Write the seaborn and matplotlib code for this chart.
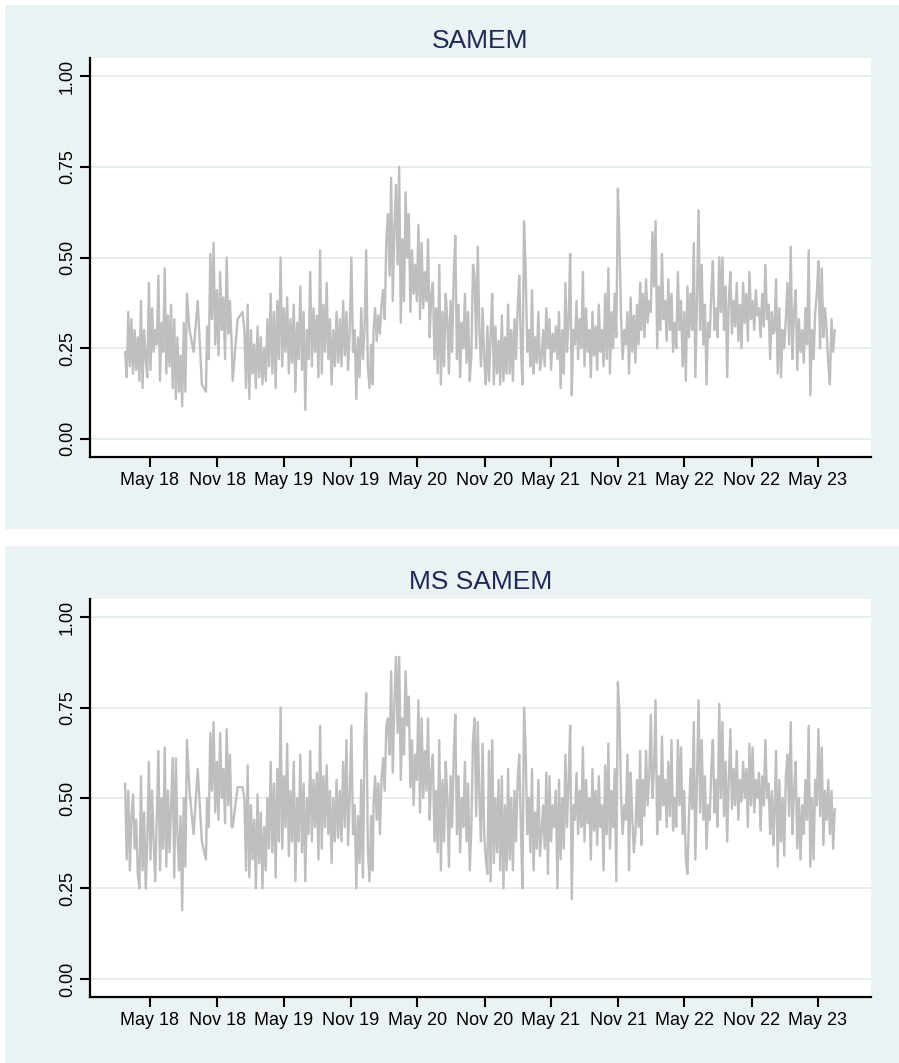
import pandas as pd
import matplotlib
matplotlib.use("Agg")
import matplotlib.pyplot as plt
import matplotlib.dates as mdates
from matplotlib.patches import Rectangle
import seaborn as sns

# Observation periods: dense trading stretches and two thin spells in late 2018
SEGMENTS = [
    ("2018-02-22", "2018-08-10"),
    ("2018-08-17", "2018-10-01"),
    ("2018-10-04", "2018-12-10"),
    ("2018-12-13", "2019-01-09"),
    ("2019-01-14", "2019-12-31"),
    ("2020-01-02", "2020-12-31"),
    ("2021-01-04", "2021-12-31"),
    ("2022-01-03", "2022-12-30"),
    ("2023-01-02", "2023-06-16"),
]

# SAMEM
samem_2018a = [0.24, 0.17, 0.35, 0.20, 0.33, 0.18, 0.30, 0.19, 0.28, 0.16, 0.38, 0.14, 0.30, 0.22,
               0.17, 0.43, 0.19, 0.36, 0.24, 0.30, 0.26, 0.45, 0.16, 0.32, 0.24, 0.47, 0.18, 0.34,
               0.20, 0.37, 0.14, 0.33, 0.11, 0.28, 0.13, 0.23, 0.09, 0.32, 0.13, 0.40]
samem_2018_gap1 = [0.30, 0.24, 0.38, 0.15, 0.13]
samem_2018b = [0.31, 0.22, 0.51, 0.33, 0.54, 0.26, 0.41, 0.23, 0.46, 0.30, 0.39, 0.22, 0.50, 0.29,
               0.38, 0.27]
samem_2018_gap2 = [0.16, 0.33, 0.35]
samem_2019 = [0.30, 0.14, 0.37, 0.11, 0.30, 0.18, 0.26, 0.14, 0.31, 0.17, 0.28, 0.15, 0.25, 0.16, 0.33, 0.20,
              0.40, 0.18, 0.35, 0.14, 0.38, 0.22, 0.50, 0.20, 0.36, 0.24, 0.39, 0.18, 0.33, 0.21, 0.37, 0.13, 0.32, 0.22, 0.42, 0.19, 0.35,
              0.08, 0.30, 0.22, 0.46, 0.20, 0.36, 0.24, 0.34, 0.17, 0.52, 0.18, 0.37, 0.24, 0.43, 0.22, 0.33, 0.15, 0.30, 0.20, 0.35, 0.21,
              0.33, 0.20, 0.38, 0.23, 0.35, 0.19, 0.30, 0.50, 0.24, 0.30, 0.11, 0.28, 0.17, 0.36, 0.22, 0.30, 0.52, 0.20, 0.14, 0.26, 0.15]
samem_2020 = [0.30, 0.36, 0.27, 0.34, 0.29, 0.37, 0.41, 0.33, 0.55, 0.62, 0.45, 0.72, 0.38, 0.58, 0.70, 0.48, 0.75, 0.32, 0.55, 0.38, 0.68,
              0.50, 0.62, 0.35, 0.52, 0.40, 0.48, 0.38, 0.59, 0.33, 0.54, 0.36, 0.46, 0.38, 0.55, 0.28, 0.40, 0.43, 0.22, 0.36, 0.18, 0.48,
              0.15, 0.35, 0.20, 0.40, 0.33, 0.18, 0.38, 0.24, 0.45, 0.56, 0.22, 0.37, 0.17, 0.32, 0.25, 0.40, 0.21, 0.35, 0.16, 0.23, 0.48,
              0.45, 0.25, 0.53, 0.30, 0.20, 0.36, 0.22, 0.15, 0.31, 0.16, 0.29, 0.40, 0.15, 0.31, 0.18, 0.27, 0.15, 0.34, 0.16, 0.28, 0.18]
samem_2021 = [0.37, 0.18, 0.30, 0.16, 0.33, 0.22, 0.36, 0.45, 0.26, 0.15, 0.60, 0.47, 0.24, 0.30, 0.20, 0.41, 0.18, 0.28, 0.21, 0.35, 0.19,
              0.22, 0.30, 0.20, 0.36, 0.25, 0.33, 0.19, 0.29, 0.24, 0.31, 0.22, 0.35, 0.14, 0.30, 0.18, 0.43, 0.24, 0.33, 0.51, 0.12, 0.30,
              0.26, 0.38, 0.22, 0.33, 0.25, 0.46, 0.20, 0.36, 0.24, 0.30, 0.17, 0.35, 0.23, 0.31, 0.19, 0.37, 0.24, 0.30, 0.20, 0.40, 0.22,
              0.47, 0.18, 0.35, 0.25, 0.40, 0.28, 0.69, 0.54, 0.33, 0.22, 0.30, 0.26, 0.35, 0.18, 0.39, 0.24, 0.34, 0.21, 0.37, 0.26, 0.43]
samem_2022 = [0.30, 0.40, 0.28, 0.44, 0.32, 0.38, 0.35, 0.57, 0.42, 0.60, 0.25, 0.42, 0.30, 0.51, 0.33, 0.38, 0.27, 0.44, 0.30, 0.40, 0.24,
              0.32, 0.25, 0.46, 0.30, 0.38, 0.20, 0.35, 0.16, 0.42, 0.28, 0.40, 0.30, 0.54, 0.17, 0.38, 0.63, 0.30, 0.48, 0.26, 0.37, 0.15,
              0.32, 0.28, 0.40, 0.49, 0.30, 0.36, 0.28, 0.50, 0.35, 0.50, 0.30, 0.42, 0.17, 0.38, 0.46, 0.29, 0.38, 0.31, 0.43, 0.27, 0.37,
              0.25, 0.43, 0.32, 0.40, 0.27, 0.46, 0.33, 0.38, 0.30, 0.41, 0.34, 0.36, 0.28, 0.40, 0.31, 0.48, 0.33, 0.37, 0.22, 0.35, 0.29]
samem_2023 = [0.30, 0.44, 0.18, 0.36, 0.17, 0.30, 0.25, 0.33, 0.43, 0.26, 0.53, 0.22, 0.35, 0.41, 0.19, 0.33, 0.24, 0.30, 0.21, 0.36, 0.26,
              0.52, 0.12, 0.30, 0.22, 0.35, 0.40, 0.49, 0.25, 0.47, 0.28, 0.36, 0.30, 0.21, 0.15, 0.33, 0.24, 0.30]

# MS SAMEM
ms_2018a = [0.54, 0.33, 0.52, 0.30, 0.45, 0.51, 0.36, 0.44, 0.29, 0.25, 0.56, 0.30, 0.46, 0.25,
            0.38, 0.60, 0.33, 0.52, 0.38, 0.27, 0.45, 0.63, 0.30, 0.50, 0.36, 0.64, 0.31, 0.52,
            0.35, 0.48, 0.61, 0.28, 0.61, 0.40, 0.30, 0.45, 0.19, 0.50, 0.31, 0.66]
ms_2018_gap1 = [0.52, 0.40, 0.58, 0.38, 0.33]
ms_2018b = [0.50, 0.42, 0.68, 0.52, 0.71, 0.46, 0.60, 0.44, 0.68, 0.50, 0.58, 0.43, 0.69, 0.48,
            0.62, 0.42]
ms_2018_gap2 = [0.42, 0.53, 0.53]
ms_2019 = [0.50, 0.30, 0.59, 0.28, 0.48, 0.33, 0.44, 0.25, 0.51, 0.32, 0.46, 0.25, 0.42, 0.30, 0.50, 0.36,
           0.60, 0.35, 0.54, 0.28, 0.58, 0.38, 0.75, 0.36, 0.56, 0.42, 0.65, 0.34, 0.52, 0.38, 0.60, 0.27, 0.50, 0.38, 0.62, 0.35, 0.54,
           0.27, 0.50, 0.40, 0.63, 0.38, 0.55, 0.42, 0.57, 0.33, 0.70, 0.36, 0.56, 0.42, 0.59, 0.40, 0.52, 0.32, 0.50, 0.38, 0.55, 0.39,
           0.52, 0.38, 0.60, 0.42, 0.66, 0.37, 0.50, 0.70, 0.40, 0.48, 0.25, 0.45, 0.32, 0.55, 0.28, 0.66, 0.79, 0.36, 0.27, 0.45, 0.30]
ms_2020 = [0.48, 0.56, 0.44, 0.54, 0.40, 0.55, 0.61, 0.52, 0.70, 0.72, 0.62, 0.85, 0.57, 0.76, 0.89, 0.68, 0.89, 0.55, 0.72, 0.62, 0.85,
           0.70, 0.78, 0.53, 0.66, 0.48, 0.62, 0.55, 0.77, 0.46, 0.72, 0.50, 0.63, 0.52, 0.72, 0.44, 0.57, 0.62, 0.38, 0.52, 0.35, 0.66,
           0.30, 0.55, 0.38, 0.60, 0.50, 0.31, 0.56, 0.42, 0.62, 0.73, 0.40, 0.56, 0.35, 0.50, 0.42, 0.60, 0.38, 0.54, 0.30, 0.42, 0.66,
           0.72, 0.45, 0.71, 0.50, 0.38, 0.65, 0.40, 0.33, 0.29, 0.63, 0.27, 0.66, 0.32, 0.50, 0.35, 0.55, 0.30, 0.56, 0.25, 0.48, 0.30]
ms_2021 = [0.58, 0.33, 0.50, 0.30, 0.52, 0.38, 0.55, 0.62, 0.42, 0.25, 0.75, 0.64, 0.40, 0.50, 0.35, 0.58, 0.30, 0.46, 0.36, 0.55, 0.34,
           0.40, 0.48, 0.36, 0.57, 0.29, 0.56, 0.38, 0.48, 0.42, 0.52, 0.25, 0.55, 0.33, 0.50, 0.36, 0.62, 0.42, 0.55, 0.70, 0.22, 0.48,
           0.44, 0.57, 0.40, 0.52, 0.42, 0.64, 0.38, 0.55, 0.43, 0.50, 0.33, 0.58, 0.41, 0.52, 0.37, 0.56, 0.42, 0.48, 0.30, 0.59, 0.40,
           0.65, 0.36, 0.52, 0.42, 0.58, 0.27, 0.82, 0.73, 0.50, 0.40, 0.48, 0.44, 0.62, 0.30, 0.57, 0.45, 0.35, 0.40, 0.55, 0.42, 0.63]
ms_2022 = [0.37, 0.55, 0.45, 0.63, 0.48, 0.56, 0.73, 0.50, 0.58, 0.77, 0.40, 0.56, 0.44, 0.67, 0.48, 0.55, 0.42, 0.60, 0.45, 0.66, 0.41,
           0.50, 0.42, 0.66, 0.48, 0.64, 0.40, 0.52, 0.33, 0.29, 0.45, 0.58, 0.47, 0.71, 0.33, 0.55, 0.77, 0.46, 0.66, 0.44, 0.56, 0.36,
           0.48, 0.44, 0.58, 0.66, 0.46, 0.55, 0.42, 0.76, 0.50, 0.71, 0.45, 0.60, 0.38, 0.55, 0.69, 0.47, 0.58, 0.48, 0.63, 0.44, 0.55,
           0.49, 0.60, 0.50, 0.58, 0.42, 0.65, 0.48, 0.64, 0.46, 0.55, 0.50, 0.57, 0.41, 0.56, 0.48, 0.66, 0.50, 0.54, 0.40, 0.52, 0.37]
ms_2023 = [0.45, 0.63, 0.31, 0.55, 0.38, 0.50, 0.34, 0.56, 0.62, 0.45, 0.71, 0.40, 0.52, 0.60, 0.36, 0.50, 0.33, 0.48, 0.40, 0.55, 0.44,
           0.70, 0.31, 0.50, 0.33, 0.55, 0.48, 0.69, 0.45, 0.64, 0.37, 0.52, 0.44, 0.55, 0.40, 0.52, 0.36, 0.47]

SAMEM_PARTS = [samem_2018a, samem_2018_gap1, samem_2018b, samem_2018_gap2,
               samem_2019, samem_2020, samem_2021, samem_2022, samem_2023]
MS_PARTS = [ms_2018a, ms_2018_gap1, ms_2018b, ms_2018_gap2,
            ms_2019, ms_2020, ms_2021, ms_2022, ms_2023]

TITLES = ["SAMEM", "MS SAMEM"]
Y_TICKS = [0.0, 0.25, 0.5, 0.75, 1.0]
Y_LABELS = ["0.00", "0.25", "0.50", "0.75", "1.00"]
X_TICKS = ["2018-05-01", "2018-11-01", "2019-05-01", "2019-11-01", "2020-05-01", "2020-11-01",
           "2021-05-01", "2021-11-01", "2022-05-01", "2022-11-01", "2023-05-01"]

BG = "#EAF2F3"
GRID = "#E3ECEF"
LINE = "#BEBEBE"
TITLE_COLOR = "#1F2A55"


def build_frame(parts):
    dates, values = [], []
    for (start, end), seg in zip(SEGMENTS, parts):
        dates.extend(pd.date_range(start, end, periods=len(seg)))
        values.extend(seg)
    return pd.DataFrame({"date": dates, "value": values})


sns.set_style("white")
plt.rcParams["font.family"] = ["Liberation Sans", "DejaVu Sans"]

W, H = 899, 1063
fig = plt.figure(figsize=(W / 100, H / 100), dpi=100)
fig.patch.set_facecolor("white")


def fx(px):
    return px / W


def fy(py):
    return 1 - py / H


# shaded graph regions behind each panel
for top, bottom in [(5, 529), (546, 1063)]:
    fig.add_artist(Rectangle((fx(5), fy(bottom)), 1 - fx(5), fy(top) - fy(bottom),
                             transform=fig.transFigure, facecolor=BG, edgecolor="none", zorder=0))

panels = [(58, 457), (599, 997)]
frames = [build_frame(SAMEM_PARTS), build_frame(MS_PARTS)]

for (top, bottom), df, title in zip(panels, frames, TITLES):
    ax = fig.add_axes([fx(90), fy(bottom), fx(871) - fx(90), fy(top) - fy(bottom)])
    ax.set_facecolor("white")
    sns.lineplot(data=df, x="date", y="value", ax=ax, color=LINE, linewidth=1.7,
                 estimator=None, sort=False)
    ax.set_xlabel("")
    ax.set_ylabel("")
    ax.set_ylim(-0.05, 1.05)
    ax.set_xlim(pd.Timestamp("2017-11-18"), pd.Timestamp("2023-09-23"))
    ax.set_yticks(Y_TICKS)
    ax.set_yticklabels(Y_LABELS, rotation=90, va="center")
    ax.set_xticks(pd.to_datetime(X_TICKS))
    ax.xaxis.set_major_formatter(mdates.DateFormatter("%b %y"))
    ax.yaxis.grid(True, color=GRID, linewidth=1.3)
    ax.xaxis.grid(False)
    ax.set_axisbelow(True)
    for side in ["top", "right"]:
        ax.spines[side].set_visible(False)
    for side in ["left", "bottom"]:
        ax.spines[side].set_color("black")
        ax.spines[side].set_linewidth(1.6)
    ax.tick_params(axis="both", which="major", bottom=True, left=True, direction="out",
                   length=7, width=1.5, colors="black", labelsize=13)
    ax.tick_params(axis="x", pad=4)
    ax.tick_params(axis="y", pad=3)
    ax.set_title(title, fontsize=19, color=TITLE_COLOR, pad=7.5)

fig.savefig("out.png", dpi=100, facecolor="white")
